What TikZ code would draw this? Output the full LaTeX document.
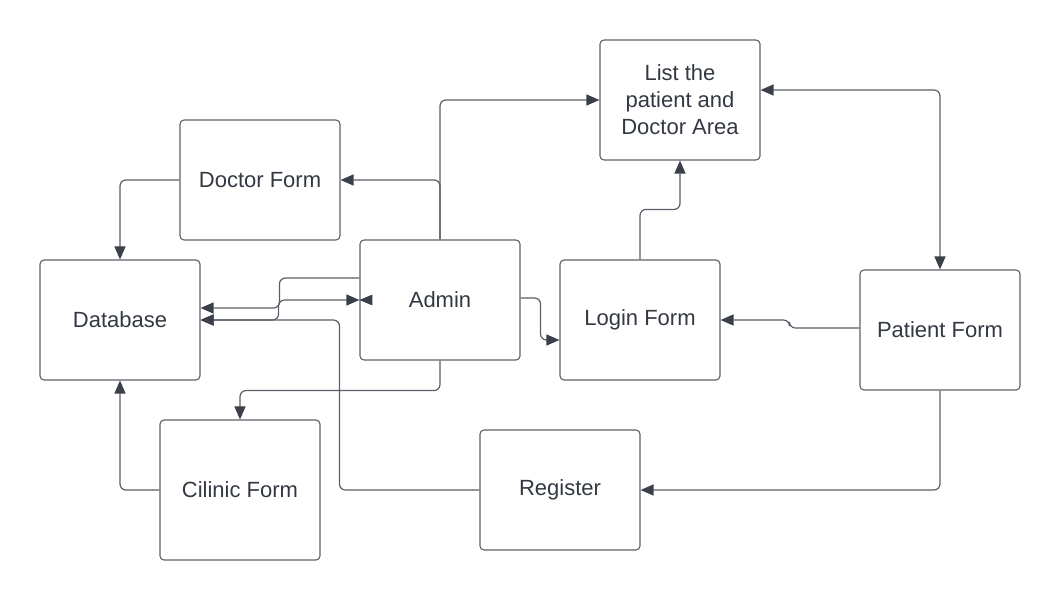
\documentclass[tikz,border=0pt]{standalone}
\usepackage{fontspec}
\setmainfont{Liberation Sans}
\usetikzlibrary{arrows.meta,calc}
\definecolor{boxc}{HTML}{5E6168}
\definecolor{linec}{HTML}{5A5E66}
\definecolor{tipc}{HTML}{3A3F4A}
\definecolor{textc}{HTML}{333842}
\begin{document}
\begin{tikzpicture}[x=1pt,y=-1pt,
  box/.style={draw=boxc,line width=1.1pt,rounded corners=4pt,minimum width=160pt,minimum height=120pt,
    align=center,text=textc,font=\fontsize{22}{27}\selectfont,inner sep=0pt},
  conn/.style={draw=linec,line width=1.2pt,rounded corners=6pt},
  tip/.style={-{Triangle[length=13pt,width=11pt,color=tipc]}},
  dtip/.style={{Triangle[length=13pt,width=11pt,color=tipc]}-{Triangle[length=13pt,width=11pt,color=tipc]}}]
\useasboundingbox (0,0) rectangle (1060,600);
\node[box] (list) at (680,100) {List the\\patient and\\Doctor Area};
\node[box] (doctor) at (260,180) {Doctor Form};
\node[box] (db) at (120,320) {Database};
\node[box] (admin) at (440,300) {Admin};
\node[box] (login) at (640,320) {Login Form};
\node[box] (patient) at (940,330) {Patient Form};
\node[box,minimum height=140pt] (cilinic) at (240,490) {Cilinic Form};
\node[box] (reg) at (560,490) {Register};
% Admin -> List, Admin -> Doctor Form
\draw[conn,tip] (admin.north) |- (list.west);
\draw[conn,tip] (admin.north) |- (doctor.east);
% Doctor -> DB, Cilinic -> DB
\draw[conn,tip] (doctor.west) -| (db.north);
\draw[conn,tip] (cilinic.west) -| (db.south);
% Admin -> Cilinic
\draw[conn,tip] (admin.south) -- ++(0,30) -| (cilinic.north);
% Admin -> DB (upper)
\draw[conn,tip] ($(admin.west)+(0,-22)$) -- ++(-80,0) |- ($(db.east)+(0,-12)$);
% DB <-> Admin
\draw[conn,dtip] (db.east) -- ++(78,0) |- (admin.west);
\fill[tipc] (admin.west) -- ++(13,-5.5) -- ++(0,11) -- cycle;
% Register -> DB
\draw[conn,tip] (reg.west) -- ++(-140,0) |- (db.east);
% Admin -> Login
\draw[conn,tip] ($(admin.east)+(0,-2)$) -- ++(20,0) |- ($(login.west)+(0,20)$);
% Login -> List
\draw[conn,tip] (login.north) -- ++(0,-50) -| (list.south);
% Patient -> Login
\draw[conn,tip] ($(patient.west)+(0,-2)$) -- ++(-70,0) |- (login.east);
% List <-> Patient
\draw[conn,dtip] ($(list.east)+(0,-10)$) -| (patient.north);
% Patient -> Register
\draw[conn,tip] (patient.south) |- (reg.east);
\end{tikzpicture}
\end{document}
